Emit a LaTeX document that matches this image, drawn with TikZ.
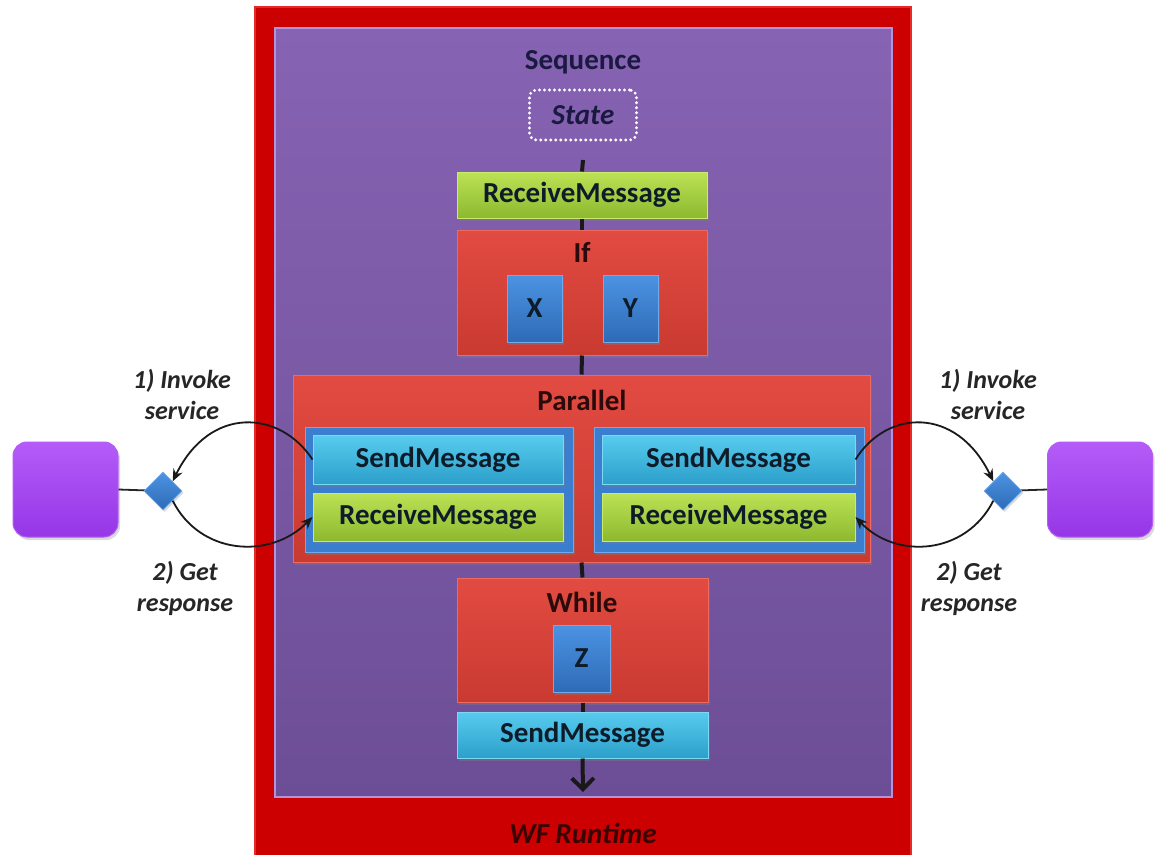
\documentclass[tikz,border=0pt]{standalone}
\usepackage{fontspec}
\setmainfont{Carlito}
\usetikzlibrary{arrows.meta,shadows,shapes.geometric}
\definecolor{outerred}{HTML}{CC0000}
\definecolor{outeredge}{HTML}{E52A2A}
\definecolor{purpT}{HTML}{8763B3}
\definecolor{purpB}{HTML}{6C4E96}
\definecolor{purpE}{HTML}{B294DC}
\definecolor{greenT}{HTML}{BCE255}
\definecolor{greenB}{HTML}{8DB92F}
\definecolor{greenE}{HTML}{C9EA6A}
\definecolor{cyanT}{HTML}{58CCEE}
\definecolor{cyanB}{HTML}{2C9FCB}
\definecolor{cyanE}{HTML}{7ADAF4}
\definecolor{redT}{HTML}{E24B41}
\definecolor{redB}{HTML}{C93A31}
\definecolor{redE}{HTML}{EC6A60}
\definecolor{blueT}{HTML}{4C93E2}
\definecolor{blueB}{HTML}{2E6BB6}
\definecolor{blueE}{HTML}{6EAAEE}
\definecolor{contblue}{HTML}{3B7ED0}
\definecolor{extT}{HTML}{B45CF8}
\definecolor{extB}{HTML}{9636E6}
\definecolor{seqtext}{HTML}{1A1A40}
\definecolor{boxtext}{HTML}{0E1C2A}
\definecolor{titletext}{HTML}{2A0A0A}
\definecolor{wftext}{HTML}{380404}
\begin{document}
\begin{tikzpicture}[x=1pt,y=-1pt,
  txt/.style={font=\bfseries\fontsize{29}{34}\selectfont},
  base/.style={rectangle, inner sep=0pt, txt, text=boxtext,
    drop shadow={opacity=0.35, shadow xshift=2pt, shadow yshift=-3pt}},
  recvbox/.style={base, top color=greenT, bottom color=greenB, draw=greenE, line width=1pt},
  sendbox/.style={base, top color=cyanT, bottom color=cyanB, draw=cyanE, line width=1pt},
  redbox/.style={base, top color=redT, bottom color=redB, draw=redE, line width=1pt},
  bluebox/.style={base, top color=blueT, bottom color=blueB, draw=blueE, line width=1pt},
  contbox/.style={base, fill=contblue, draw=blueE, line width=1pt},
  title/.style={txt, text=titletext, inner sep=0pt},
  extbox/.style={rectangle, rounded corners=14pt, top color=extT, bottom color=extB,
    draw=extT, line width=1pt, minimum width=105pt, minimum height=95pt, inner sep=0pt,
    drop shadow={opacity=0.3, shadow xshift=2pt, shadow yshift=-3pt}},
  dia/.style={diamond, inner sep=0pt, minimum width=38pt, minimum height=38pt,
    top color=blueT, bottom color=blueB, draw=blueE, line width=0.8pt,
    drop shadow={opacity=0.3, shadow xshift=1.5pt, shadow yshift=-2pt}},
  side/.style={font=\bfseries\itshape\fontsize{26}{31}\selectfont, text=black!85, align=center, inner sep=0pt},
  seqline/.style={line width=4pt, draw=black!90},
  call/.style={line width=1.8pt, draw=black!90, -{Stealth[length=12pt,width=10pt]}}
]
\useasboundingbox (0,0) rectangle (1156,854);
% outer runtime frame
\path[fill=outerred, draw=outeredge, line width=2pt] (255,7) rectangle (911,870);
% sequence container
\path[top color=purpT, bottom color=purpB, draw=purpE, line width=1.5pt] (275,28) rectangle (892,797);
\node[txt, text=seqtext, inner sep=0pt] (seqlabel) at (583,62) {Sequence};
\node[rectangle, rounded corners=7pt, draw=white, line width=3.2pt, dash pattern=on 0pt off 5pt, line cap=round,
      minimum width=107pt, minimum height=50pt, inner sep=0pt,
      font=\bfseries\itshape\fontsize{29}{34}\selectfont, text=seqtext] (state) at (583,115) {State};
\coordinate (seqstart) at (583,160);
\coordinate (seqend) at (583,792);
% activities
\node[recvbox, minimum width=250pt, minimum height=46pt] (recv1) at (582,195) {ReceiveMessage};
\node[redbox, minimum width=250pt, minimum height=125pt] (ifbox) at (582,292.5) {};
\node[title] (iflabel) at (582,252) {If};
\node[bluebox, minimum width=55pt, minimum height=67pt] (xbox) at (534.5,308.5) {X};
\node[bluebox, minimum width=55pt, minimum height=67pt] (ybox) at (630.5,308.5) {Y};
\node[redbox, minimum width=577pt, minimum height=187pt] (par) at (581.5,468.5) {};
\node[title] (parlabel) at (582,400) {Parallel};
\node[contbox, minimum width=268pt, minimum height=125pt] (contL) at (439,489.5) {};
\node[contbox, minimum width=270pt, minimum height=125pt] (contR) at (729,489.5) {};
\node[sendbox, minimum width=250pt, minimum height=49pt] (sendL) at (438,459.5) {SendMessage};
\node[recvbox, minimum width=250pt, minimum height=48pt] (recvL) at (438,517) {ReceiveMessage};
\node[sendbox, minimum width=253pt, minimum height=49pt] (sendR) at (728.5,459.5) {SendMessage};
\node[recvbox, minimum width=253pt, minimum height=48pt] (recvR) at (728.5,517) {ReceiveMessage};
\node[redbox, minimum width=251pt, minimum height=124pt] (while) at (582.5,640) {};
\node[title] (whilelabel) at (582,602) {While};
\node[bluebox, minimum width=57pt, minimum height=67pt] (zbox) at (581.5,658.5) {Z};
\node[sendbox, minimum width=251pt, minimum height=46pt] (sendB) at (582.5,735) {SendMessage};
% sequence flow
\draw[seqline] (seqstart) -- (recv1.north);
\draw[seqline] (recv1.south) -- (ifbox.north);
\draw[seqline] (ifbox.south) -- (par.north);
\draw[seqline] (par.south) -- (while.north);
\draw[seqline] (while.south) -- (sendB.north);
\draw[seqline, -{Straight Barb[length=11pt,width=22pt]}] (sendB.south) -- (seqend);
% runtime label
\node[font=\bfseries\itshape\fontsize{29}{34}\selectfont, text=wftext, inner sep=0pt] (wf) at (583,833) {WF Runtime};
% external services
\node[extbox] (extL) at (65.5,489.5) {};
\node[extbox] (extR) at (1100,489.5) {};
\draw[line width=1.8pt, draw=black!85] (extL.east) -- (163,491);
\draw[line width=1.8pt, draw=black!85] (extR.west) -- (1003,491);
\node[dia] (dL) at (163,491) {};
\node[dia] (dR) at (1003,491) {};
\draw[call] (sendL.west) .. controls (280,410) and (210,405) .. (dL.north east);
\draw[call] (dL.south east) .. controls (200,555) and (270,560) .. (recvL.west);
\draw[call] (sendR.east) .. controls (886,410) and (956,405) .. (dR.north west);
\draw[call] (dR.south west) .. controls (966,555) and (896,560) .. (recvR.east);
\node[side] (invL) at (182,394) {1) Invoke\\service};
\node[side] (getL) at (185,588) {2) Get\\response};
\node[side] (invR) at (988,394) {1) Invoke\\service};
\node[side] (getR) at (969,588) {2) Get\\response};
\end{tikzpicture}
\end{document}
